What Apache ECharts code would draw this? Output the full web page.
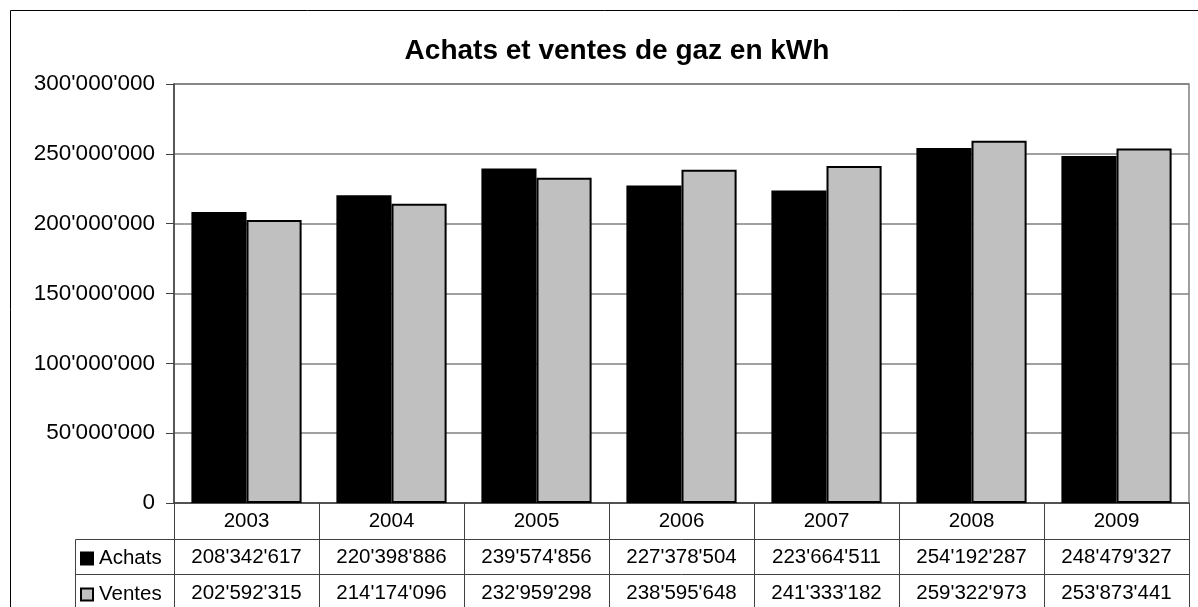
<!DOCTYPE html>
<html>
<head>
<meta charset="utf-8">
<script src="https://cdn.jsdelivr.net/npm/echarts@6/dist/echarts.min.js"></script>
<style>
html,body{margin:0;padding:0;background:#fff;}
#chart{width:1198px;height:607px;}
</style>
</head>
<body>
<div id="chart"></div>
<script>
const years = ['2003','2004','2005','2006','2007','2008','2009'];
const achats = [208342617, 220398886, 239574856, 227378504, 223664511, 254192287, 248479327];
const ventes = [202592315, 214174096, 232959298, 238595648, 241333182, 259322973, 253873441];
const seriesNames = ['Achats', 'Ventes'];
const titleText = 'Achats et ventes de gaz en kWh';

function fmt(v){
  return String(Math.round(v)).replace(/\B(?=(\d{3})+(?!\d))/g, "'");
}

const FONT = "'Liberation Sans', Arial, sans-serif";
const LINE = '#404040';
const chart = echarts.init(document.getElementById('chart'), null, {renderer:'canvas'});

const tableLabel = {fontSize: 20.5, color: '#000', fontFamily: FONT, margin: 8, interval: 0};

chart.setOption({
  animation: false,
  backgroundColor: '#fff',
  textStyle: {fontFamily: FONT},
  title: {
    text: titleText,
    left: 612, top: 32, textAlign: 'center',
    textStyle: {fontSize: 28, fontWeight: 'bold', color: '#000', fontFamily: FONT}
  },
  legend: {
    data: seriesNames,
    orient: 'vertical',
    left: 80, top: 548,
    padding: 0,
    itemWidth: 12, itemHeight: 12, itemGap: 15,
    icon: 'rect',
    textStyle: {fontSize: 20.5, color: '#000', fontFamily: FONT, lineHeight: 20, padding: [0,0,0,1]}
  },
  grid: {
    left: 174, right: 9, top: 84, bottom: 104,
    show: true, borderColor: '#808080', borderWidth: 1.5, backgroundColor: 'transparent'
  },
  xAxis: [
    {
      type: 'category', data: years, position: 'bottom',
      axisLine: {show: true, lineStyle: {color: LINE, width: 1.5}},
      axisTick: {show: true, length: 106, interval: 0, alignWithLabel: false, lineStyle: {color: LINE, width: 1}},
      axisLabel: tableLabel,
      splitLine: {show: false}
    },
    {
      type: 'category', data: achats.map(fmt), position: 'bottom', offset: 36,
      axisLine: {show: true, lineStyle: {color: LINE, width: 1}},
      axisTick: {show: false},
      axisLabel: tableLabel,
      splitLine: {show: false}
    },
    {
      type: 'category', data: ventes.map(fmt), position: 'bottom', offset: 71,
      axisLine: {show: true, lineStyle: {color: LINE, width: 1}},
      axisTick: {show: false},
      axisLabel: Object.assign({}, tableLabel, {margin: 9}),
      splitLine: {show: false}
    }
  ],
  yAxis: {
    type: 'value', min: 0, max: 300000000, interval: 50000000,
    axisLine: {show: true, lineStyle: {color: LINE, width: 1.5}},
    axisTick: {show: true, length: 8, lineStyle: {color: LINE, width: 1}},
    axisLabel: {fontSize: 22.5, color: '#000', fontFamily: FONT, margin: 19, formatter: fmt},
    splitLine: {show: true, lineStyle: {color: '#808080', width: 1.5}}
  },
  series: [
    {
      name: seriesNames[0], type: 'bar', data: achats, xAxisIndex: 0,
      barGap: '0%', barCategoryGap: '24%',
      itemStyle: {color: '#000', borderColor: '#000', borderWidth: 2}
    },
    {
      name: seriesNames[1], type: 'bar', data: ventes, xAxisIndex: 0,
      itemStyle: {color: '#c0c0c0', borderColor: '#000', borderWidth: 2}
    }
  ],
  graphic: [
    {type: 'rect', shape: {x: 10.5, y: 10.5, width: 1400, height: 800}, style: {fill: 'none', stroke: '#000', lineWidth: 1}, silent: true, z: -1},
    {type: 'line', shape: {x1: 75.5, y1: 539.5, x2: 174, y2: 539.5}, style: {stroke: LINE, lineWidth: 1}},
    {type: 'line', shape: {x1: 75.5, y1: 574.5, x2: 174, y2: 574.5}, style: {stroke: LINE, lineWidth: 1}},
    {type: 'line', shape: {x1: 75.5, y1: 539.5, x2: 75.5, y2: 607}, style: {stroke: LINE, lineWidth: 1}}
  ]
});
</script>
</body>
</html>
